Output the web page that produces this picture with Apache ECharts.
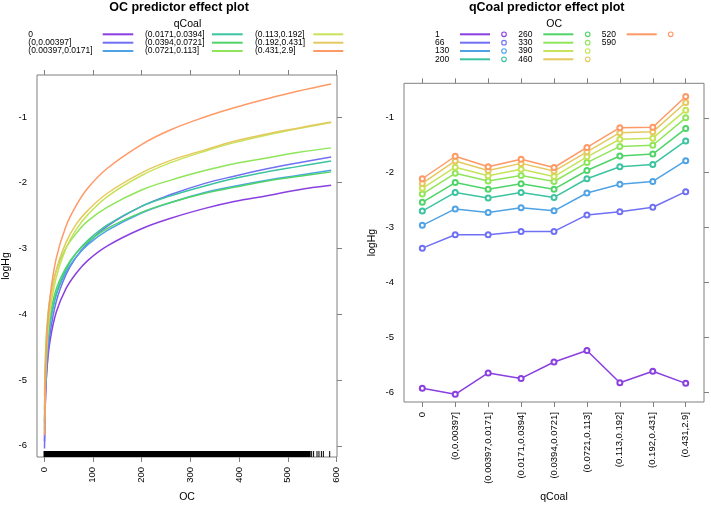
<!DOCTYPE html>
<html><head><meta charset="utf-8">
<script src="https://cdn.jsdelivr.net/npm/echarts@6/dist/echarts.min.js"></script>
<style>html,body{margin:0;padding:0;background:#fff}#c{width:711px;height:508px}</style>
</head><body><div id="c"></div>
<script>
// ---------- data ----------
const qCoalLevels = ['0','(0,0.00397]','(0.00397,0.0171]','(0.0171,0.0394]','(0.0394,0.0721]','(0.0721,0.113]','(0.113,0.192]','(0.192,0.431]','(0.431,2.9]'];
const ocLevels = ['1','66','130','200','260','330','390','460','520','590'];

// logHg for each qCoal level (same order as qCoalLevels), at a given OC value
const hgOC1   = [-5.93, -6.04, -5.65, -5.75, -5.45, -5.24, -5.83, -5.62, -5.84];
const hgOC66  = [-3.375, -3.13, -3.13, -3.07, -3.07, -2.77, -2.71, -2.63, -2.345];
const hgOC130 = [-2.96, -2.66, -2.725, -2.64, -2.695, -2.37, -2.21, -2.16, -1.78];
const hgOC200 = [-2.70, -2.36, -2.46, -2.36, -2.45, -2.11, -1.89, -1.85, -1.42];
const hgOC260 = [-2.54, -2.18, -2.30, -2.20, -2.30, -1.96, -1.695, -1.66, -1.195];
const hgOC330 = [-2.39, -2.01, -2.15, -2.05, -2.16, -1.815, -1.52, -1.50, -1.00];
const hgOC390 = [-2.285, -1.90, -2.055, -1.935, -2.07, -1.71, -1.39, -1.37, -0.86];
const hgOC460 = [-2.195, -1.785, -1.96, -1.83, -1.97, -1.62, -1.27, -1.255, -0.72];
const hgOC520 = [-2.11, -1.70, -1.89, -1.755, -1.905, -1.54, -1.18, -1.17, -0.61];
// extra points
const hgOC3   = [-5.26, -5.28, -4.99, -5.05, -4.82, -4.59, -5.01, -4.83, -4.92];
const hgOC6   = [-4.84, -4.80, -4.57, -4.60, -4.43, -4.18, -4.50, -4.34, -4.34];
const hgOC12  = [-4.42, -4.32, -4.16, -4.16, -4.04, -3.77, -3.98, -3.85, -3.76];
const hgOC25  = [-3.97, -3.81, -3.71, -3.69, -3.62, -3.34, -3.44, -3.33, -3.15];
const hgOC45  = [-3.61, -3.40, -3.36, -3.32, -3.29, -2.99, -3.00, -2.91, -2.66];
const hgOC90  = [-3.18, -2.92, -2.94, -2.875, -2.90, -2.58, -2.485, -2.42, -2.08];
const hgOC589 = [-2.04, -1.61, -1.81, -1.67, -1.835, -1.47, -1.085, -1.075, -0.50];

const curveOC = [1, 3, 6, 12, 25, 45, 66, 90, 130, 200, 260, 330, 390, 460, 520, 589];
const curveRows = [hgOC1, hgOC3, hgOC6, hgOC12, hgOC25, hgOC45, hgOC66, hgOC90, hgOC130, hgOC200, hgOC260, hgOC330, hgOC390, hgOC460, hgOC520, hgOC589];
const panelRows = [hgOC1, hgOC66, hgOC130, hgOC200, hgOC260, hgOC330, hgOC390, hgOC460, hgOC520];

// rug of observed OC values
const rugDense = [[0, 546]];
const rugSparse = [549, 553, 560, 564, 569, 573, 586];

const xTicksOC = [0, 100, 200, 300, 400, 500, 600];
const yTicks = [-6, -5, -4, -3, -2, -1];

// ---------- style ----------
const palette = ['#8A3FE0','#7070F5','#4FA3E5','#3CC3A0','#4FD468','#8FE55A','#C6E35A','#E5C95E','#FF9966'];
const FONT = "'Liberation Sans', Arial, sans-serif";
const AX = '#808080';
const lim1 = {xmin: -14.4, xmax: 601, ymin: -6.17, ymax: -0.362};
const lim2 = {xmin: -0.556, xmax: 8.555, ymin: -6.18, ymax: -0.37};

function valAxis(extra){
  return Object.assign({
    type: 'value', axisLine: {show: false, onZero: false}, splitLine: {show: false},
    axisTick: {show: true, length: 5, lineStyle: {color: AX, width: 1}},
    axisLabel: {show: false, color: '#000', fontSize: 9.5, fontFamily: FONT},
    nameTextStyle: {color: '#000', fontSize: 10.5, fontFamily: FONT}
  }, extra);
}
const catIdx = qCoalLevels.map((_, i) => i);

const xAxes = [
  valAxis({gridIndex: 0, position: 'bottom', min: lim1.xmin, max: lim1.xmax,
    axisTick: {show: true, length: 5, customValues: xTicksOC, lineStyle: {color: AX}},
    axisLabel: {show: true, customValues: xTicksOC, rotate: 90, margin: 10, color: '#000', fontSize: 9.5, fontFamily: FONT},
    name: 'OC', nameLocation: 'middle', nameGap: 35}),
  valAxis({gridIndex: 0, position: 'top', min: lim1.xmin, max: lim1.xmax,
    axisTick: {show: true, length: 5, customValues: xTicksOC, lineStyle: {color: AX}}}),
  valAxis({gridIndex: 1, position: 'bottom', min: lim2.xmin, max: lim2.xmax,
    axisTick: {show: true, length: 5, customValues: catIdx, lineStyle: {color: AX}},
    axisLabel: {show: true, customValues: catIdx, rotate: 90, margin: 10, color: '#000', fontSize: 9.5, fontFamily: FONT,
      formatter: v => qCoalLevels[Math.round(v)]},
    name: 'qCoal', nameLocation: 'middle', nameGap: 90}),
  valAxis({gridIndex: 1, position: 'top', min: lim2.xmin, max: lim2.xmax,
    axisTick: {show: true, length: 5, customValues: catIdx, lineStyle: {color: AX}}})
];
const yAxes = [
  valAxis({gridIndex: 0, position: 'left', min: lim1.ymin, max: lim1.ymax,
    axisTick: {show: false},
    axisLabel: {show: true, customValues: yTicks, margin: 10, color: '#000', fontSize: 9.5, fontFamily: FONT},
    name: 'logHg', nameLocation: 'middle', nameGap: 25}),
  valAxis({gridIndex: 0, position: 'right', min: lim1.ymin, max: lim1.ymax,
    axisTick: {show: true, length: 5, customValues: yTicks, lineStyle: {color: AX}}}),
  valAxis({gridIndex: 1, position: 'left', min: lim2.ymin, max: lim2.ymax,
    axisTick: {show: false},
    axisLabel: {show: true, customValues: yTicks, margin: 10, color: '#000', fontSize: 9.5, fontFamily: FONT},
    name: 'logHg', nameLocation: 'middle', nameGap: 26}),
  valAxis({gridIndex: 1, position: 'right', min: lim2.ymin, max: lim2.ymax,
    axisTick: {show: true, length: 5, customValues: yTicks, lineStyle: {color: AX}}})
];

const series = [];
// rug
const rugData = rugDense.map(r => [r[0], r[1]]).concat(rugSparse.map(v => [v, v]));
series.push({
  type: 'custom', xAxisIndex: 0, yAxisIndex: 0, data: rugData, silent: true, z: 1,
  renderItem: (params, api) => {
    const p1 = api.coord([api.value(0), -6.08]);
    const p2 = api.coord([api.value(1), lim1.ymin]);
    return {type: 'rect', shape: {x: p1[0] - 0.5, y: p1[1], width: Math.max(1, p2[0] - p1[0] + 1), height: p2[1] - p1[1]},
      style: {fill: '#000'}};
  }
});
// OC effect curves
qCoalLevels.forEach((q, qi) => {
  series.push({
    type: 'line', name: q, xAxisIndex: 0, yAxisIndex: 0,
    data: curveOC.map((oc, k) => [oc, curveRows[k][qi]]),
    showSymbol: false, smooth: 0.4,
    lineStyle: {color: palette[qi], width: 1.5}, itemStyle: {color: palette[qi]}, z: 2
  });
});
// qCoal effect lines
panelRows.forEach((row, oi) => {
  series.push({
    type: 'line', name: ocLevels[oi], xAxisIndex: 2, yAxisIndex: 2,
    data: row.map((v, i) => [i, v]),
    symbol: 'emptyCircle', symbolSize: 5, showSymbol: true,
    lineStyle: {color: palette[oi], width: 1.5},
    itemStyle: {color: palette[oi], borderColor: palette[oi], borderWidth: 1.2}, z: 2
  });
});

// legends drawn as graphics
const g = [];
function txt(x, y, t, size, align){
  g.push({type: 'text', x: x, y: y, style: {text: t, fill: '#000', font: size + 'px ' + FONT, align: align || 'left', verticalAlign: 'middle'}, silent: true});
}
function seg(x1, x2, y, c){
  g.push({type: 'line', shape: {x1: x1, y1: y, x2: x2, y2: y}, style: {stroke: c, lineWidth: 2}, silent: true});
}
function circ(x, y, c){
  g.push({type: 'circle', shape: {cx: x, cy: y, r: 2.3}, style: {fill: 'none', stroke: c, lineWidth: 1.1}, silent: true});
}
const rowsY = [34.3, 42.7, 51, 59.3];
txt(187.5, 24.5, 'qCoal', 10.5, 'center');
const leftCols = [{t: 28.3, l1: 102.7, l2: 133.3}, {t: 145, l1: 212, l2: 242.7}, {t: 255, l1: 313.3, l2: 343.3}];
qCoalLevels.forEach((q, i) => {
  const c = leftCols[Math.floor(i / 3)], y = rowsY[i % 3];
  txt(c.t, y, q, 8.5, 'left');
  seg(c.l1, c.l2, y, palette[i]);
});
txt(554.2, 24.5, 'OC', 10.5, 'center');
const rightCols = [{t: 435, l1: 460, l2: 490, c: 504}, {t: 518.3, l1: 543.3, l2: 573.3, c: 587.7}, {t: 601.7, l1: 626.7, l2: 656.7, c: 670.7}];
ocLevels.forEach((o, i) => {
  const c = rightCols[Math.floor(i / 4)], y = rowsY[i % 4];
  txt(c.t, y, o, 8.5, 'left');
  if (i < palette.length) { seg(c.l1, c.l2, y, palette[i]); circ(c.c, y, palette[i]); }
});

const chart = echarts.init(document.getElementById('c'), null, {renderer: 'canvas'});
chart.setOption({
  animation: false,
  backgroundColor: '#fff',
  title: [
    {text: 'OC predictor effect plot', left: 179, top: 1, textAlign: 'center', padding: 0,
      textStyle: {fontSize: 12.5, fontWeight: 'bold', color: '#000', fontFamily: FONT}},
    {text: 'qCoal predictor effect plot', left: 546.7, top: 1, textAlign: 'center', padding: 0,
      textStyle: {fontSize: 12.5, fontWeight: 'bold', color: '#000', fontFamily: FONT}}
  ],
  grid: [
    {left: 37, top: 75, width: 300, height: 385, show: true, borderColor: AX, borderWidth: 1, backgroundColor: 'transparent'},
    {left: 404, top: 83.3, width: 300, height: 321.7, show: true, borderColor: AX, borderWidth: 1, backgroundColor: 'transparent'}
  ],
  xAxis: xAxes,
  yAxis: yAxes,
  series: series,
  graphic: g
});
</script></body></html>
